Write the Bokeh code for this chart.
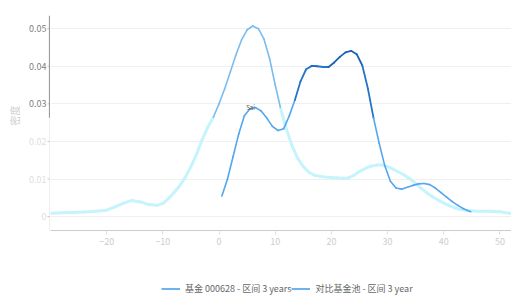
import math
from bokeh.plotting import figure
from bokeh.layouts import row, column
from bokeh.models import (ColumnDataSource, FixedTicker, Legend, LegendItem,
                          Label, Range1d)
from bokeh.core.properties import value
from bokeh.embed import file_html
from bokeh.resources import INLINE

# ---------------- data ----------------
fund_x = [0.5, 1.5, 2.5, 3.5, 4.5, 5.5, 6.5, 7.5, 8.5, 9.5, 10.5, 11.5, 12.5, 13.5,
          14.5, 15.5, 16.5, 17.5, 18.5, 19.5, 20.5, 21.5, 22.5, 23.5, 24.5, 25.5,
          26.5, 27.5, 28.5, 29.5, 30.5, 31.5, 32.5, 33.5, 34.5, 35.5, 36.5, 37.5,
          38.5, 39.5, 40.5, 41.5, 42.5, 43.5, 44.8]
fund_y = [0.0055, 0.0100, 0.0160, 0.0220, 0.0268, 0.0287, 0.0290, 0.0281, 0.0262,
          0.0240, 0.0229, 0.0234, 0.0268, 0.0310, 0.0360, 0.0392, 0.0401, 0.0400,
          0.0398, 0.0398, 0.0410, 0.0425, 0.0437, 0.0441, 0.0432, 0.0402, 0.0340,
          0.0262, 0.0195, 0.0135, 0.0094, 0.0076, 0.0073, 0.0078, 0.0083, 0.0087,
          0.0088, 0.0085, 0.0076, 0.0064, 0.0052, 0.0040, 0.0030, 0.0021, 0.0013]

pool_x = [-30, -28, -26, -24, -22, -20, -18.5, -17, -15.5, -14, -12.5, -11, -10, -9,
          -8, -7, -6, -5, -4, -3, -2, -1, 0, 1, 2, 3, 4, 5, 6, 7, 8, 9, 10, 11, 12,
          13, 14, 15, 16, 17, 18, 19, 20, 21, 22, 23, 24, 25, 26, 27, 28, 29, 30,
          31, 32, 33, 34, 35, 36, 37, 38, 39, 40, 41, 42, 43, 44, 46, 48, 50, 52]
pool_y = [0.0009, 0.0010, 0.0011, 0.0012, 0.0014, 0.0017, 0.0026, 0.0036, 0.0043,
          0.0039, 0.0032, 0.0030, 0.0035, 0.0048, 0.0064, 0.0082, 0.0105, 0.0133,
          0.0166, 0.0205, 0.0238, 0.0265, 0.0300, 0.0340, 0.0385, 0.0430, 0.0470,
          0.0497, 0.0507, 0.0500, 0.0472, 0.0420, 0.0350, 0.0285, 0.0232, 0.0188,
          0.0155, 0.0133, 0.0118, 0.0110, 0.0107, 0.0105, 0.0104, 0.0103, 0.0102,
          0.0103, 0.0110, 0.0120, 0.0128, 0.0134, 0.0137, 0.0137, 0.0133, 0.0126,
          0.0118, 0.0110, 0.0100, 0.0088, 0.0075, 0.0063, 0.0053, 0.0044, 0.0036,
          0.0029, 0.0023, 0.0019, 0.0016, 0.0014, 0.0014, 0.0013, 0.0008]

series_names = ["基金 000628 - 区间 3 years", "对比基金池 - 区间 3 year"]
x_ticks = [-20, -10, 0, 10, 20, 30, 40, 50]
y_ticks = [0, 0.01, 0.02, 0.03, 0.04, 0.05]
y_tick_labels = ["0", "0.01", "0.02", "0.03", "0.04", "0.05"]
y_title = "密度"
peak_label = "Sai"

FONT = "Noto Sans CJK SC"
Y_LO, Y_HI = -0.0037, 0.0535
Y_SPLIT = 0.0263          # level where the y axis / pool curve change tone

yr = Range1d(Y_LO, Y_HI)

# ---------------- main plot ----------------
p = figure(width=461, height=262, output_backend="svg", toolbar_location=None,
           x_range=Range1d(-30, 52.05), y_range=yr,
           min_border_left=0, min_border_right=0, min_border_top=15,
           min_border_bottom=32)
p.outline_line_color = None
p.background_fill_color = "white"
p.border_fill_color = "white"

p.xgrid.visible = False
p.ygrid.ticker = FixedTicker(ticks=y_ticks)
p.ygrid.grid_line_color = "#f0f0f0"
p.yaxis.visible = False

p.xaxis.ticker = FixedTicker(ticks=x_ticks)
p.xaxis.axis_line_color = "#cccccc"
p.xaxis.major_tick_line_color = "#dddddd"
p.xaxis.major_tick_out = 4
p.xaxis.major_tick_in = 0
p.xaxis.minor_tick_line_color = None
p.xaxis.major_label_text_color = "#cccccc"
p.xaxis.major_label_text_font = FONT
p.xaxis.major_label_text_font_size = "9px"
p.xaxis.major_label_standoff = 3


def segments(xs, ys, cmap):
    sx, sy, col, wid = [], [], [], []
    for i in range(len(xs) - 1):
        m = 0.5 * (ys[i] + ys[i + 1])
        c, w = cmap(m)
        sx.append([xs[i], xs[i + 1]])
        sy.append([ys[i], ys[i + 1]])
        col.append(c)
        wid.append(w)
    return ColumnDataSource(dict(xs=sx, ys=sy, color=col, width=wid))


def pool_map(v):
    if v >= 0.027:
        return "#7bbcef", 1.6
    return "#c6f4fc", 3.0


def fund_map(v):
    if v >= 0.04:
        return "#1a62b8", 1.8
    if v >= 0.03:
        return "#2474c8", 1.8
    return "#55a6ee", 1.6


p.multi_line(xs="xs", ys="ys", line_color="color", line_width="width",
             line_cap="round", source=segments(pool_x, pool_y, pool_map))
p.multi_line(xs="xs", ys="ys", line_color="color", line_width="width",
             line_cap="round", source=segments(fund_x, fund_y, fund_map))

k = max(range(len(fund_x)), key=lambda i: fund_y[i] if fund_x[i] < 10 else -1)
p.add_layout(Label(x=fund_x[k], y=fund_y[k], text=peak_label, x_offset=-5,
                   y_offset=-4, text_font=FONT, text_font_size="6px",
                   text_color="#555555", text_align="center",
                   text_baseline="bottom"))

# ---------------- y axis panel (left) ----------------
ya = figure(width=50, height=262, output_backend="svg", toolbar_location=None,
            x_range=Range1d(0, 50), y_range=yr,
            min_border_left=0, min_border_right=0, min_border_top=15,
            min_border_bottom=32)
ya.outline_line_color = None
ya.axis.visible = False
ya.grid.visible = False
ya.border_fill_color = "white"

lab_col = ["#808080" if t >= 0.03 else "#dedede" for t in y_ticks]
ya.text(x=[46] * len(y_ticks), y=y_ticks, text=y_tick_labels,
        text_color=lab_col, text_align="right", text_baseline="middle",
        text_font=value(FONT), text_font_size="9px")
ya.segment(x0=[47] * len(y_ticks), y0=y_ticks, x1=[50] * len(y_ticks),
           y1=y_ticks, line_color="#c8c8c8", line_width=1)
ya.segment(x0=[49.5, 49.3], y0=[Y_LO, Y_SPLIT], x1=[49.5, 49.3],
           y1=[Y_SPLIT, Y_HI], line_color=["#dddddd", "#9a9a9a"],
           line_width=[1, 1.8])
ya.text(x=[14], y=[(Y_LO + Y_HI) / 2 + 0.002], text=[y_title],
        angle=math.pi / 2, text_color="#d0d0d0", text_align="center",
        text_baseline="middle", text_font=value(FONT), text_font_size="10px")

# ---------------- legend strip (bottom) ----------------
lg = figure(width=511, height=35, output_backend="svg", toolbar_location=None,
            x_range=Range1d(0, 1), y_range=Range1d(0, 1),
            min_border_left=0, min_border_right=0, min_border_top=0,
            min_border_bottom=0)
lg.outline_line_color = None
lg.axis.visible = False
lg.grid.visible = False
r1 = lg.line(x=[fund_x[0] + 5], y=[fund_y[0]], line_color="#4a9fea", line_width=1.6)
r2 = lg.line(x=[pool_x[0] - 5], y=[pool_y[0]], line_color="#4a9fea", line_width=1.6)
legend = Legend(items=[LegendItem(label=series_names[0], renderers=[r1]),
                       LegendItem(label=series_names[1], renderers=[r2])],
                orientation="horizontal", location=(161, 2),
                label_text_font=FONT, label_text_font_size="9px",
                label_text_color="#666666", glyph_width=19, glyph_height=9,
                label_standoff=5, spacing=-4, padding=2, margin=0,
                border_line_color=None, background_fill_alpha=0)
lg.add_layout(legend)

layout = column(row(ya, p), lg)
open("out.html", "w").write(file_html(layout, INLINE))
